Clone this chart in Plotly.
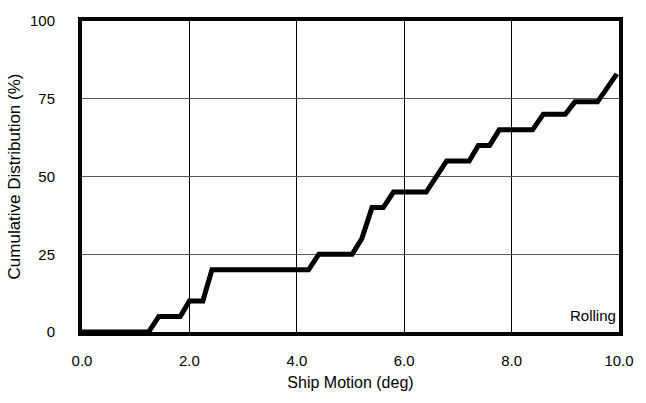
import plotly.graph_objects as go

motion_deg = [0.0, 1.24, 1.43, 1.83, 2.0, 2.25, 2.42, 4.22, 4.41, 5.03, 5.21, 5.40, 5.61, 5.80,
              6.41, 6.79, 7.21, 7.38, 7.59, 7.77, 8.39, 8.59, 9.0, 9.18, 9.60, 9.96]
cum_pct = [0, 0, 5, 5, 10, 10, 20, 20, 25, 25, 30, 40, 40, 45,
           45, 55, 55, 60, 60, 65, 65, 70, 70, 74, 74, 83]
x_ticks = [0, 2, 4, 6, 8, 10]
x_tick_labels = ["0.0", "2.0", "4.0", "6.0", "8.0", "10.0"]
y_ticks = [0, 25, 50, 75, 100]

fig = go.Figure()
fig.add_trace(go.Scatter(x=motion_deg, y=cum_pct, mode="lines",
                         line=dict(color="black", width=5), showlegend=False))

fig.add_annotation(x=9.98, y=2, xref="x", yref="y", text="Rolling", showarrow=False,
                   xanchor="right", yanchor="bottom",
                   font=dict(family="Liberation Sans", size=15, color="black"))

fig.update_layout(
    width=646, height=403,
    margin=dict(l=82, r=27, t=16, b=71),
    paper_bgcolor="white", plot_bgcolor="white",
    font=dict(family="Liberation Sans", color="black"),
)
fig.update_xaxes(range=[0, 10], tickvals=x_ticks, ticktext=x_tick_labels,
                 showgrid=True, gridcolor="black", gridwidth=1,
                 showline=True, linecolor="black", linewidth=4, mirror=True,
                 zeroline=False, ticks="", ticklabelstandoff=12,
                 tickfont=dict(size=15, family="Liberation Sans"),
                 title=dict(text="Ship Motion (deg)", font=dict(size=16), standoff=10))
fig.update_yaxes(range=[0, 100], tickvals=y_ticks,
                 showgrid=True, gridcolor="#555555", gridwidth=1,
                 showline=True, linecolor="black", linewidth=4, mirror=True,
                 zeroline=False, ticks="", ticklabelstandoff=20,
                 tickfont=dict(size=15, family="Liberation Sans"),
                 title=dict(text="Cumulative Distribution (%)", font=dict(size=17), standoff=6))

fig.write_html("out.html")
